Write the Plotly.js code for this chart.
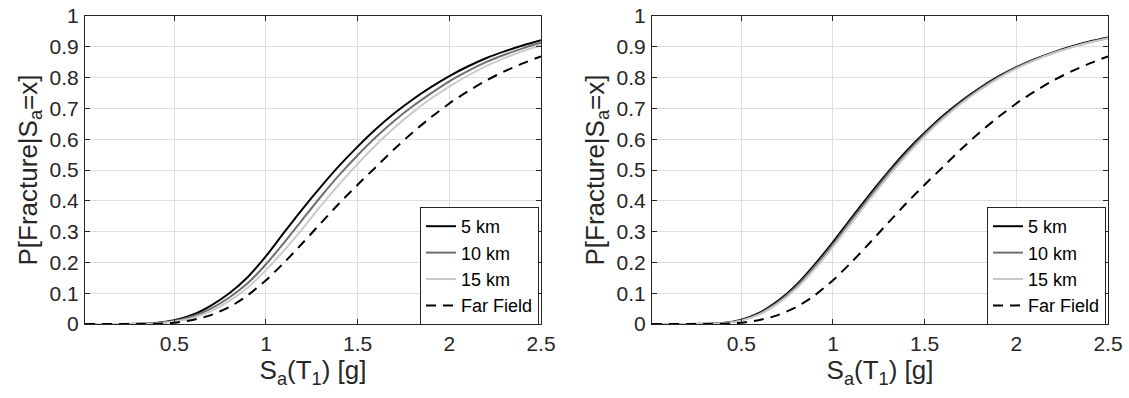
<!DOCTYPE html>
<html>
<head>
<meta charset="utf-8">
<script src="https://cdn.plot.ly/plotly-3.0.1.min.js"></script>
<style>html,body{margin:0;padding:0;background:#fff;}#chart{width:1129px;height:398px;}</style>
</head>
<body>
<div id="chart"></div>
<script>
// Sa(T1) [g]
const sa = [0.013, 0.1, 0.2, 0.3, 0.4, 0.5, 0.6, 0.7, 0.8, 0.9, 1.0, 1.1, 1.2, 1.3, 1.4, 1.5, 1.6, 1.7, 1.8, 1.9, 2.0, 2.1, 2.2, 2.3, 2.4, 2.5];

// Left panel
const left5km  = [0, 0, 0, 0.0005, 0.003, 0.012, 0.030, 0.060, 0.100, 0.152, 0.220, 0.298, 0.374, 0.446, 0.514, 0.576, 0.633, 0.684, 0.729, 0.769, 0.805, 0.836, 0.863, 0.885, 0.904, 0.921];
const left10km = [0, 0, 0, 0.0004, 0.0025, 0.010, 0.025, 0.050, 0.086, 0.132, 0.194, 0.265, 0.340, 0.414, 0.484, 0.548, 0.607, 0.660, 0.707, 0.749, 0.788, 0.821, 0.850, 0.874, 0.895, 0.913];
const left15km = [0, 0, 0, 0.0003, 0.002, 0.008, 0.020, 0.042, 0.075, 0.118, 0.175, 0.240, 0.310, 0.384, 0.454, 0.520, 0.581, 0.637, 0.687, 0.732, 0.771, 0.806, 0.837, 0.863, 0.886, 0.905];
const farField = [0, 0, 0, 0, 0.001, 0.004, 0.013, 0.029, 0.055, 0.093, 0.142, 0.200, 0.263, 0.328, 0.392, 0.452, 0.510, 0.568, 0.622, 0.671, 0.716, 0.755, 0.790, 0.820, 0.846, 0.869];

// Right panel
const right5km  = [0, 0, 0, 0.0005, 0.003, 0.014, 0.037, 0.075, 0.127, 0.193, 0.266, 0.344, 0.420, 0.493, 0.561, 0.621, 0.676, 0.724, 0.766, 0.803, 0.834, 0.860, 0.882, 0.901, 0.917, 0.930];
const right10km = [0, 0, 0, 0.0004, 0.003, 0.012, 0.034, 0.071, 0.122, 0.187, 0.259, 0.337, 0.413, 0.487, 0.555, 0.616, 0.671, 0.720, 0.763, 0.800, 0.832, 0.858, 0.880, 0.899, 0.915, 0.929];
const right15km = [0, 0, 0, 0.0003, 0.0025, 0.011, 0.031, 0.066, 0.115, 0.178, 0.250, 0.327, 0.404, 0.478, 0.547, 0.610, 0.666, 0.716, 0.759, 0.797, 0.829, 0.856, 0.879, 0.898, 0.914, 0.927];

const seriesNames = ['5 km', '10 km', '15 km', 'Far Field'];
const xTicks = [0.5, 1, 1.5, 2, 2.5];
const xTickText = ['0.5', '1', '1.5', '2', '2.5'];
const yTicks = [0, 0.1, 0.2, 0.3, 0.4, 0.5, 0.6, 0.7, 0.8, 0.9, 1];
const yTickText = ['0', '0.1', '0.2', '0.3', '0.4', '0.5', '0.6', '0.7', '0.8', '0.9', '1'];

const styles = [
  {color: '#000000', width: 2, dash: 'solid'},
  {color: '#6f6f6f', width: 2, dash: 'solid'},
  {color: '#cacaca', width: 2, dash: 'solid'},
  {color: '#000000', width: 2, dash: '10px,7px'}
];

function mk(y, i, xa, ya, lg) {
  return {
    x: sa, y: y, type: 'scatter', mode: 'lines', name: seriesNames[i],
    xaxis: xa, yaxis: ya, legend: lg,
    line: {color: styles[i].color, width: styles[i].width, dash: styles[i].dash, shape: 'spline', smoothing: 0.8},
    hoverinfo: 'skip'
  };
}

const traces = [
  mk(left5km, 0, 'x', 'y', 'legend'),
  mk(left10km, 1, 'x', 'y', 'legend'),
  mk(left15km, 2, 'x', 'y', 'legend'),
  mk(farField, 3, 'x', 'y', 'legend'),
  mk(right5km, 0, 'x2', 'y2', 'legend2'),
  mk(right10km, 1, 'x2', 'y2', 'legend2'),
  mk(right15km, 2, 'x2', 'y2', 'legend2'),
  mk(farField, 3, 'x2', 'y2', 'legend2')
];

const W = 1129, H = 398;
const fam = '"Liberation Sans", Arial, Helvetica, sans-serif';
const font = {family: fam, size: 21, color: '#262626'};
const titleFont = {family: fam, size: 26, color: '#262626'};

function xax(dom, anchor) {
  return {
    domain: dom, anchor: anchor, range: [0.013, 2.5],
    tickvals: xTicks, ticktext: xTickText,
    ticks: 'inside', ticklen: 5, tickcolor: '#262626', tickwidth: 1,
    showline: true, linecolor: '#262626', linewidth: 1, mirror: 'ticks',
    showgrid: true, gridcolor: '#dedede', gridwidth: 1, zeroline: false,
    tickfont: font, ticklabelstandoff: 1,
    title: {text: 'S<sub>a</sub>(T<sub>1</sub>) [g]', font: titleFont, standoff: 2},
    automargin: false, fixedrange: true
  };
}
function yax(dom, anchor) {
  return {
    domain: dom, anchor: anchor, range: [0, 1],
    tickvals: yTicks, ticktext: yTickText,
    ticks: 'inside', ticklen: 5, tickcolor: '#262626', tickwidth: 1,
    showline: true, linecolor: '#262626', linewidth: 1, mirror: 'ticks',
    showgrid: true, gridcolor: '#dedede', gridwidth: 1, zeroline: false,
    tickfont: font, ticklabelstandoff: 1,
    title: {text: 'P[Fracture|S<sub>a</sub>=x]', font: titleFont, standoff: 4},
    automargin: false, fixedrange: true
  };
}

const legendBase = {
  bgcolor: '#ffffff', bordercolor: '#262626', borderwidth: 1,
  font: {family: fam, size: 18, color: '#000000'},
  xanchor: 'right', yanchor: 'top', tracegroupgap: 0, itemwidth: 30
};

const layout = {
  width: W, height: H,
  margin: {l: 0, r: 0, t: 0, b: 0},
  paper_bgcolor: '#ffffff', plot_bgcolor: '#ffffff',
  showlegend: true,
  xaxis: xax([85 / W, 541 / W], 'y'),
  yaxis: yax([1 - 324 / H, 1 - 16 / H], 'x'),
  xaxis2: xax([652 / W, 1108 / W], 'y2'),
  yaxis2: yax([1 - 324 / H, 1 - 16 / H], 'x2'),
  legend: Object.assign({}, legendBase, {x: 539 / W, y: 1 - 207 / H}),
  legend2: Object.assign({}, legendBase, {x: 1106 / W, y: 1 - 207 / H})
};

Plotly.newPlot('chart', traces, layout, {displayModeBar: false, staticPlot: true});
</script>
</body>
</html>
